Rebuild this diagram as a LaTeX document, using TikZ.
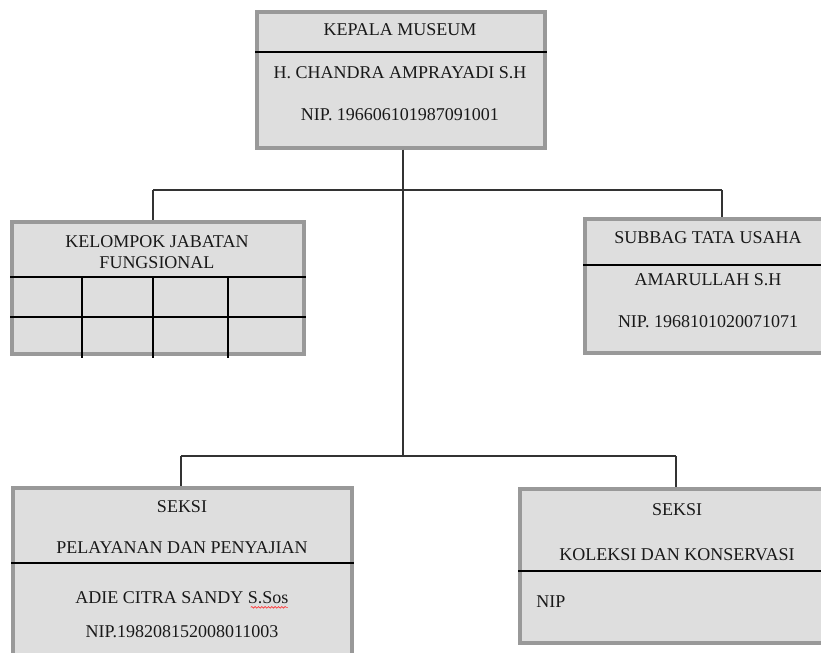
\documentclass[tikz,border=0pt]{standalone}
\usepackage{fontspec}
\setmainfont{Liberation Serif}
\usetikzlibrary{decorations.pathmorphing}
\begin{document}
\begin{tikzpicture}[x=0.75pt,y=-0.75pt,
  box/.style={draw=black!40,line width=2.4pt,fill=black!13,rectangle,inner sep=0pt},
  lbl/.style={inner sep=0pt,font=\fontsize{13.5}{15}\selectfont,text=black!90,anchor=center},
  divider/.style={draw=black,line width=0.8pt},
  conn/.style={draw=black!80,line width=1pt}]
\useasboundingbox (0,0) rectangle (821,653);
\clip (0,0) rectangle (821,653);
% boxes
\node[box,minimum width=216pt,minimum height=102pt] (top) at (401,80) {};
\node[box,minimum width=219pt,minimum height=99pt] (ml) at (158,288) {};
\node[box,minimum width=187.5pt,minimum height=100.5pt] (mr) at (710,286) {};
\node[box,minimum width=254.25pt,minimum height=136.5pt] (bl) at (182.5,579) {};
\node[box,minimum width=236.25pt,minimum height=115.5pt] (br) at (677.5,566) {};
% dividers
\draw[divider] (top.west |- 0,52) -- (top.east |- 0,52);
\draw[divider] (ml.west |- 0,277) -- (ml.east |- 0,277);
\draw[divider] (ml.west |- 0,317) -- (ml.east |- 0,317);
\foreach \gx in {82,153,228} \draw[divider] (\gx,277) -- (\gx,358);
\draw[divider] (mr.west |- 0,265) -- (mr.east |- 0,265);
\draw[divider] (bl.west |- 0,563) -- (bl.east |- 0,563);
\draw[divider] (br.west |- 0,571) -- (br.east |- 0,571);
% texts
\node[lbl] (t1) at (400,30) {KEPALA MUSEUM};
\node[lbl] (t2) at (400,73) {H. CHANDRA AMPRAYADI S.H};
\node[lbl] (t3) at (400,115) {NIP. 196606101987091001};
\node[lbl,align=center,font=\fontsize{13.5}{15.75}\selectfont] (m1) at (157,252.5) {KELOMPOK JABATAN\\FUNGSIONAL};
\node[lbl] (r1t) at (708,238) {SUBBAG TATA USAHA};
\node[lbl] (r2t) at (708,280) {AMARULLAH S.H};
\node[lbl] (r3t) at (708,322) {NIP. 1968101020071071};
\node[lbl] (b1) at (182,507) {SEKSI};
\node[lbl] (b2) at (182,548) {PELAYANAN DAN PENYAJIAN};
\node[lbl] (b3) at (182,598) {ADIE CITRA SANDY S.Sos};
\node[lbl] (b4) at (182,632) {NIP.198208152008011003};
\node[lbl] (c1) at (677,510) {SEKSI};
\node[lbl] (c2) at (677,555) {KOLEKSI DAN KONSERVASI};
\node[lbl,anchor=west] (c3) at (536,602) {NIP};
% spell-check underline
\draw[red!80,line width=0.5pt,decorate,decoration={snake,amplitude=0.6pt,segment length=2.5pt}] (b3.south east) ++(-38,3) -- ++(37,0);
% connectors
\coordinate (j1) at (403,190);
\coordinate (j2) at (403,456);
\coordinate (l1) at (153,190);
\coordinate (r1) at (722,190);
\coordinate (l2) at (181,456);
\coordinate (r2) at (676,456);
\draw[conn] (top.south -| j1) -- (j2);
\draw[conn] (l1) -- (r1);
\draw[conn] (l1) -- (l1 |- ml.north);
\draw[conn] (r1) -- (r1 |- mr.north);
\draw[conn] (l2) -- (r2);
\draw[conn] (l2) -- (l2 |- bl.north);
\draw[conn] (r2) -- (r2 |- br.north);
\end{tikzpicture}
\end{document}
